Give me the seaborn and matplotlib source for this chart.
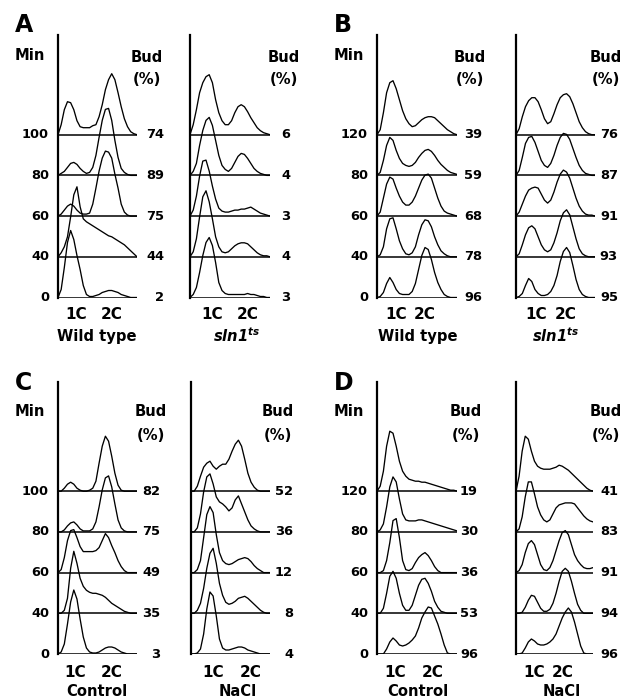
import numpy as np
import pandas as pd
import matplotlib
matplotlib.use("Agg")
import matplotlib.pyplot as plt
import seaborn as sns

# DNA content channel, 26 bins from the axis to the right end (1C ~ bin 6, 2C ~ bin 16)
channel = list(range(26))

# time points, bottom trace first
minutes_100 = [0, 40, 60, 80, 100]
minutes_120 = [0, 40, 60, 80, 120]

# budding index (%), bottom trace first
bud_a_wt = [2, 44, 75, 89, 74]
bud_a_sln = [3, 4, 3, 4, 6]
bud_b_wt = [96, 78, 68, 59, 39]
bud_b_sln = [95, 93, 91, 87, 76]
bud_c_ctrl = [3, 35, 49, 75, 82]
bud_c_nacl = [4, 8, 12, 36, 52]
bud_d_ctrl = [96, 53, 36, 30, 19]
bud_d_nacl = [96, 94, 91, 83, 41]

# FACS histograms (cell counts, a.u.), bottom trace first
hist_a_wt = [
    [0, 8, 30, 55, 67, 58, 42, 28, 12, 3, 1, 1, 2, 3, 5, 6, 7, 7, 6, 5, 3, 2, 1, 0, 0, 0],
    [0, 4, 10, 20, 40, 62, 70, 50, 38, 35, 33, 31, 29, 27, 25, 23, 21, 20, 18, 16, 14, 12, 9, 6, 3, 0],
    [0, 2, 6, 10, 12, 10, 6, 3, 2, 2, 3, 12, 28, 45, 58, 65, 64, 58, 42, 28, 12, 4, 1, 0, 0, 0],
    [0, 2, 4, 8, 12, 13, 11, 7, 4, 2, 3, 8, 20, 38, 55, 66, 67, 55, 35, 18, 7, 3, 1, 0, 0, 0],
    [0, 10, 25, 33, 32, 25, 14, 8, 7, 7, 7, 9, 10, 18, 30, 45, 55, 61, 55, 42, 28, 16, 8, 3, 1, 0],
]
hist_a_sln = [
    [0, 3, 10, 25, 42, 55, 60, 52, 35, 15, 7, 4, 3, 3, 3, 3, 3, 3, 4, 3, 3, 2, 1, 1, 0, 0],
    [0, 5, 18, 40, 60, 66, 55, 38, 20, 10, 5, 4, 5, 8, 11, 13, 14, 14, 13, 10, 7, 4, 2, 1, 1, 0],
    [0, 6, 20, 40, 55, 56, 45, 30, 17, 8, 5, 4, 4, 5, 6, 6, 7, 7, 8, 9, 7, 5, 3, 2, 1, 0],
    [0, 4, 12, 30, 45, 55, 58, 50, 35, 20, 10, 6, 4, 7, 13, 19, 22, 21, 17, 12, 7, 4, 2, 1, 0, 0],
    [0, 10, 25, 42, 52, 58, 60, 52, 35, 22, 14, 10, 10, 14, 22, 28, 30, 28, 23, 17, 12, 7, 4, 2, 1, 0],
]
hist_b_wt = [
    [0, 1, 5, 14, 20, 15, 8, 4, 3, 3, 3, 6, 14, 28, 42, 50, 48, 38, 25, 15, 8, 3, 1, 0, 0, 0],
    [0, 2, 10, 28, 38, 39, 28, 16, 8, 3, 2, 4, 10, 22, 32, 37, 36, 30, 20, 12, 6, 3, 1, 0, 0, 0],
    [0, 4, 18, 32, 39, 37, 28, 20, 14, 11, 11, 14, 20, 28, 36, 41, 42, 38, 28, 18, 10, 5, 3, 2, 1, 0],
    [0, 3, 15, 30, 38, 35, 25, 17, 12, 10, 9, 10, 13, 18, 22, 25, 26, 24, 20, 15, 11, 8, 5, 3, 2, 1],
    [0, 5, 22, 42, 52, 54, 46, 35, 24, 16, 11, 8, 9, 12, 15, 17, 18, 18, 17, 14, 11, 8, 5, 3, 1, 0],
]
hist_b_sln = [
    [0, 1, 4, 12, 19, 16, 8, 4, 2, 2, 3, 6, 12, 22, 36, 46, 50, 45, 32, 18, 8, 3, 1, 0, 0, 0],
    [0, 3, 12, 22, 29, 31, 28, 20, 12, 7, 5, 7, 14, 24, 36, 44, 47, 42, 30, 18, 8, 3, 1, 0, 0, 0],
    [0, 4, 12, 20, 26, 28, 29, 28, 22, 16, 13, 16, 24, 34, 42, 46, 44, 38, 28, 18, 10, 5, 2, 1, 1, 0],
    [0, 5, 18, 32, 38, 39, 33, 24, 15, 10, 8, 12, 20, 30, 38, 42, 41, 36, 27, 18, 10, 5, 2, 1, 0, 0],
    [0, 6, 18, 28, 34, 37, 37, 33, 25, 16, 11, 13, 21, 30, 37, 40, 41, 38, 31, 22, 13, 7, 3, 1, 0, 0],
]
hist_c_ctrl = [
    [0, 2, 10, 30, 52, 64, 55, 35, 17, 6, 2, 1, 1, 2, 4, 6, 7, 7, 6, 4, 2, 1, 0, 0, 0, 0],
    [0, 0, 3, 15, 45, 62, 50, 35, 27, 23, 21, 20, 20, 19, 18, 16, 13, 10, 8, 6, 4, 2, 1, 0, 0, 0],
    [0, 3, 15, 32, 42, 43, 35, 26, 21, 21, 21, 21, 22, 25, 32, 39, 35, 27, 20, 12, 6, 2, 0, 0, 0, 0],
    [0, 0, 2, 6, 9, 10, 7, 3, 1, 1, 1, 3, 10, 25, 42, 54, 56, 45, 28, 12, 4, 1, 0, 0, 0, 0],
    [0, 0, 3, 7, 9, 7, 3, 1, 0, 0, 1, 3, 10, 28, 45, 55, 50, 35, 18, 6, 1, 0, 0, 0, 0, 0],
]
hist_c_nacl = [
    [0, 0, 1, 5, 20, 45, 62, 58, 38, 15, 6, 4, 4, 5, 6, 7, 7, 6, 4, 3, 2, 1, 0, 0, 0, 0],
    [0, 0, 3, 10, 25, 45, 60, 65, 50, 30, 18, 11, 9, 10, 12, 15, 16, 17, 15, 12, 9, 6, 3, 1, 0, 0],
    [0, 0, 3, 12, 35, 58, 66, 60, 38, 20, 12, 9, 8, 9, 11, 13, 14, 15, 14, 11, 7, 4, 2, 0, 0, 0],
    [0, 0, 4, 18, 40, 55, 58, 48, 35, 30, 28, 25, 21, 24, 32, 36, 28, 20, 12, 6, 3, 1, 0, 0, 0, 0],
    [0, 0, 5, 15, 24, 28, 30, 25, 22, 25, 27, 27, 32, 40, 47, 51, 45, 32, 18, 9, 4, 1, 0, 0, 0, 0],
]
hist_d_ctrl = [
    [0, 0, 0, 5, 12, 16, 13, 9, 8, 9, 11, 14, 18, 26, 36, 42, 47, 46, 38, 30, 20, 9, 1, 0, 0, 0],
    [0, 0, 5, 20, 37, 42, 35, 20, 8, 3, 3, 8, 18, 28, 34, 35, 30, 22, 12, 6, 2, 1, 0, 0, 0, 0],
    [0, 0, 2, 12, 30, 52, 54, 35, 12, 3, 2, 4, 10, 15, 18, 20, 17, 12, 6, 2, 0, 0, 0, 0, 0, 0],
    [0, 2, 8, 25, 45, 55, 50, 33, 18, 12, 11, 11, 11, 12, 12, 11, 10, 9, 8, 7, 6, 5, 4, 3, 2, 1],
    [0, 5, 20, 45, 60, 58, 45, 30, 20, 15, 12, 11, 10, 10, 9, 9, 8, 7, 6, 5, 4, 3, 2, 1, 1, 0],
]
hist_d_nacl = [
    [0, 0, 1, 6, 12, 15, 13, 10, 9, 9, 10, 12, 15, 20, 28, 36, 42, 46, 42, 32, 20, 8, 1, 0, 0, 0],
    [0, 0, 1, 6, 13, 18, 17, 11, 5, 2, 2, 4, 10, 20, 32, 42, 45, 42, 32, 20, 9, 3, 0, 0, 0, 0],
    [0, 2, 8, 20, 29, 32, 28, 18, 8, 3, 2, 5, 12, 22, 32, 40, 42, 38, 28, 18, 12, 8, 5, 4, 4, 5],
    [0, 3, 15, 35, 50, 50, 38, 25, 17, 12, 10, 12, 18, 24, 27, 28, 29, 29, 29, 28, 24, 20, 16, 13, 11, 10],
    [0, 15, 40, 55, 52, 40, 30, 25, 23, 22, 22, 22, 23, 24, 26, 25, 23, 21, 18, 15, 12, 9, 6, 3, 1, 0],
]

sln_label = r"$\mathit{sln1}^{\mathit{ts}}$"

sns.set_style("white")
plt.rcParams["font.family"] = ["DejaVu Sans"]
plt.rcParams["font.weight"] = "bold"
plt.rcParams["text.color"] = "black"
plt.rcParams["xtick.color"] = "black"
plt.rcParams["xtick.labelcolor"] = "black"
# only the mutant name uses mathtext: keep it all bold italic, digits included
plt.rcParams["mathtext.fontset"] = "custom"
plt.rcParams["mathtext.it"] = "DejaVu Sans:italic:bold"
plt.rcParams["mathtext.rm"] = "DejaVu Sans:italic:bold"

W, H = 629, 700
fig = plt.figure(figsize=(W / 100, H / 100), dpi=100)

step = 40.7  # vertical spacing between stacked traces (count units)

# row layout in pixels
rows = {
    "top": dict(base=297.5, top=35, letter_y=25, min_y=56, bud_y=57, pct_y=80, name_y=336, pad=6.8),
    "bottom": dict(base=654, top=382, letter_y=383, min_y=412, bud_y=412, pct_y=436, name_y=692, pad=7.8),
}

# (letter, row, hist, minutes, bud, left px, width px, tick bins, bud x, name, name x, number dx)
subpanels = [
    ("A", "top", hist_a_wt, minutes_100, bud_a_wt, 58, 79, [5.75, 17], 147, "Wild type", 97, 27),
    (None, "top", hist_a_sln, None, bud_a_sln, 190, 80, [7, 18], 284, sln_label, 237, 20),
    ("B", "top", hist_b_wt, minutes_120, bud_b_wt, 377, 80, [6, 15], 470, "Wild type", 418, 25),
    (None, "top", hist_b_sln, None, bud_b_sln, 516, 79, [6.25, 15.75], 606, sln_label, 556, 23),
    ("C", "bottom", hist_c_ctrl, minutes_100, bud_c_ctrl, 58, 79, [5.5, 17], 151, "Control", 97, 23),
    (None, "bottom", hist_c_nacl, None, bud_c_nacl, 191, 79, [7, 19], 278, "NaCl", 238, 23),
    ("D", "bottom", hist_d_ctrl, minutes_120, bud_d_ctrl, 377, 80, [5.75, 17.25], 466, "Control", 418, 21),
    (None, "bottom", hist_d_nacl, None, bud_d_nacl, 516, 77, [6, 15], 606, "NaCl", 562, 25),
]

for letter, row, hist, minutes, bud, left, width, ticks, bud_x, name, name_x, dx in subpanels:
    r = rows[row]
    ax = fig.add_axes([left / W, 1 - r["base"] / H, width / W, (r["base"] - r["top"]) / H])

    # long table of traces, each lifted by its position in the stack
    frames = []
    for i, counts in enumerate(hist):
        frames.append(pd.DataFrame({"channel": channel, "count": counts, "trace": i}))
    df = pd.concat(frames, ignore_index=True)
    df["level"] = df["count"] + df["trace"] * step

    sns.lineplot(data=df, x="channel", y="level", units="trace", estimator=None,
                 color="black", lw=0.95, legend=False, ax=ax)
    for i in range(len(hist)):
        ax.axhline(i * step, color="black", lw=1.1)

    ax.set_xlim(0, channel[-1])
    ax.set_ylim(0, r["base"] - r["top"])
    for side in ["top", "right", "bottom"]:
        ax.spines[side].set_visible(False)
    ax.spines["left"].set_linewidth(1.6)
    ax.spines["left"].set_color("black")
    ax.set_yticks([])
    ax.set_xticks(ticks)
    ax.set_xticklabels(["1C", "2C"], fontsize=11, fontweight="bold", color="black")
    ax.tick_params(axis="x", length=0, pad=r["pad"])
    ax.set_xlabel("")
    ax.set_ylabel("")

    for i, b in enumerate(bud):
        ax.annotate(str(b), xy=(1, i * step), xycoords=("axes fraction", "data"),
                    xytext=(dx, 0), textcoords="offset pixels",
                    ha="right", va="center", fontsize=9.4, fontweight="bold")
    if minutes is not None:
        for i, m in enumerate(minutes):
            ax.annotate(str(m), xy=(0, i * step), xycoords=("axes fraction", "data"),
                        xytext=(-9, 0), textcoords="offset pixels",
                        ha="right", va="center", fontsize=9.4, fontweight="bold")
        fig.text((left - 43) / W, 1 - r["letter_y"] / H, letter, fontsize=17,
                 fontweight="bold", ha="left", va="center")
        fig.text((left - 43) / W, 1 - r["min_y"] / H, "Min", fontsize=10.6,
                 fontweight="bold", ha="left", va="center")

    fig.text(bud_x / W, 1 - r["bud_y"] / H, "Bud", fontsize=10.6, fontweight="bold",
             ha="center", va="center")
    fig.text(bud_x / W, 1 - r["pct_y"] / H, "(%)", fontsize=10.6, fontweight="bold",
             ha="center", va="center")
    fig.text(name_x / W, 1 - r["name_y"] / H, name, fontsize=10.6, fontweight="bold",
             ha="center", va="center")

fig.savefig("out.png", dpi=100)
plt.close(fig)
